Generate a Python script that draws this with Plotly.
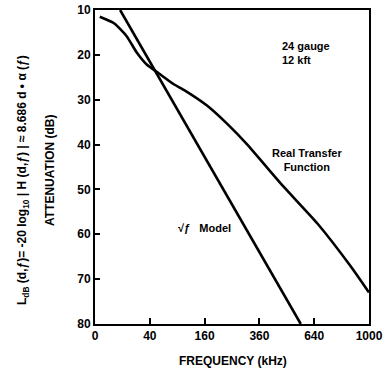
import numpy as np
import plotly.graph_objects as go

# Data (frequency in kHz, attenuation in dB)
real_f = [0.3, 5, 13.5, 23, 36, 54, 82, 105, 167, 233, 309, 380, 476, 659, 872, 1000]
real_a = [11.5, 13.0, 15.9, 19.4, 22.2, 24.1, 26.5, 27.8, 31.3, 35.4, 40.0, 44.3, 49.5, 57.6, 67.2, 73.0]
model_f = [8.4, 203, 564]
model_a = [10, 48, 80]
x_ticks = [0, 40, 160, 360, 640, 1000]
y_ticks = [10, 20, 30, 40, 50, 60, 70, 80]

FONT = "Liberation Sans"
W, H = 386, 371
L, R, T, B = 95, 17, 10, 47
PW, PH = W - L - R, H - T - B

fig = go.Figure()
fig.add_trace(go.Scatter(x=np.sqrt(real_f), y=real_a, mode="lines",
                         line=dict(color="black", width=2.6, shape="spline", smoothing=0.5),
                         showlegend=False))
fig.add_trace(go.Scatter(x=np.sqrt(model_f), y=model_a, mode="lines",
                         line=dict(color="black", width=2.6), showlegend=False))

fig.update_layout(
    width=W, height=H,
    margin=dict(l=L, r=R, t=T, b=B, autoexpand=False),
    plot_bgcolor="white", paper_bgcolor="white",
    font=dict(family=FONT, color="black", size=12),
    xaxis=dict(range=[0, np.sqrt(1000)], tickvals=np.sqrt(x_ticks),
               ticktext=[f"<b>{v}</b>" for v in x_ticks], automargin=False,
               ticks="inside", ticklen=6, tickwidth=1.5, tickcolor="black",
               showline=True, linecolor="black", linewidth=2, mirror=True,
               showgrid=False, zeroline=False, tickfont=dict(size=12)),
    yaxis=dict(range=[80, 10], tickvals=y_ticks,
               ticktext=[f"<b>{v}</b>" for v in y_ticks], automargin=False,
               ticks="inside", ticklen=5, tickwidth=1.5, tickcolor="black",
               showline=True, linecolor="black", linewidth=2, mirror=True,
               showgrid=False, zeroline=False, tickfont=dict(size=12)),
)

def px(x, y):
    # pixel position -> paper coordinates (relative to plot area)
    return (x - L) / PW, (H - B - y) / PH

labels = [
    (233, 361, "<b>FREQUENCY (kHz)</b>", 0, 12, "center"),
    (50, 170, "<b>ATTENUATION (dB)</b>", -90, 12, "center"),
    (23, 180, "<b>L<sub>dB</sub> (d,ƒ)= -20 log<sub>10</sub> | H (d,ƒ) | ≈ 8.686 d • α (ƒ)</b>", -90, 12, "center"),
    (280, 53, "<b>24 gauge<br>12 kft</b>", 0, 11, "left"),
    (307, 160, "<b>Real Transfer<br>Function</b>", 0, 11, "center"),
    (204, 228, "<b>√ƒ   Model</b>", 0, 11, "center"),
]
for x, y, t, ang, sz, al in labels:
    xx, yy = px(x, y)
    fig.add_annotation(x=xx, y=yy, xref="paper", yref="paper", text=t, showarrow=False,
                       textangle=ang, font=dict(size=sz), align=al,
                       xanchor="left" if al == "left" else "center", yanchor="middle")

fig.write_html("out.html")
